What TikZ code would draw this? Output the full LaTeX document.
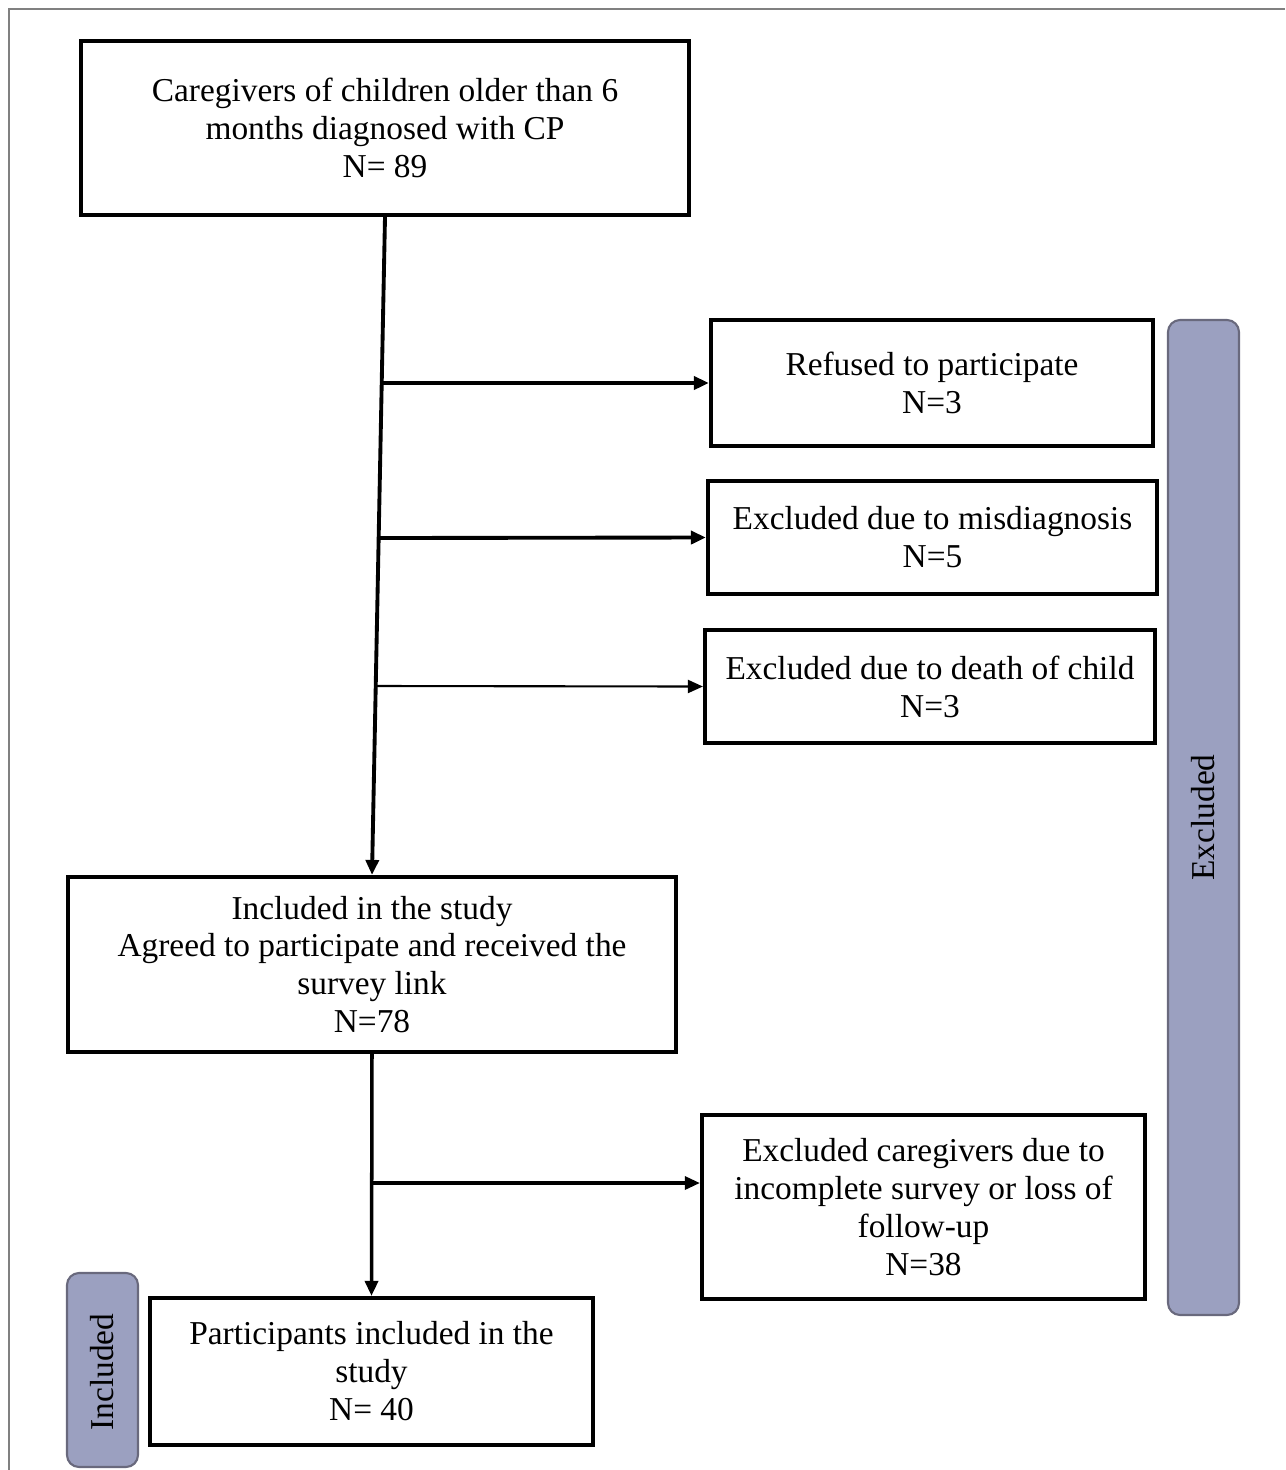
\documentclass[tikz,border=0pt]{standalone}
\usepackage{fontspec}
\setmainfont{Liberation Serif}
\usetikzlibrary{arrows.meta}

\definecolor{barfill}{RGB}{155,160,192}
\definecolor{barline}{RGB}{105,105,125}

\tikzset{
  box/.style={draw, line width=1.2pt, align=center, inner sep=0pt,
    font=\fontsize{9.5}{10.8}\selectfont},
  sidebar/.style={draw=barline, fill=barfill, line width=0.6pt, rounded corners=1.2mm,
    font=\fontsize{9.5}{10.8}\selectfont},
  >={Triangle[length=1.5mm,width=1.3mm]}
}

\begin{document}
\begin{tikzpicture}[x=0.1mm,y=-0.1mm]
        \useasboundingbox (0,0) rectangle (1285,1470);
        \draw[gray, line width=0.5pt] (9,1470) -- (9,9) -- (1285,9);
        % boxes
        \node[box, minimum width=60.8mm, minimum height=17.4mm] (top) at (385,128)
            {Caregivers of children older than 6\\months diagnosed with CP\\N= 89};
        \node[box, minimum width=44.2mm, minimum height=12.6mm] (refused) at (932,383)
            {Refused to participate\\N=3};
        \node[box, minimum width=44.9mm, minimum height=11.3mm] (misdiag) at (932.5,537.5)
            {Excluded due to misdiagnosis\\N=5};
        \node[box, minimum width=45.0mm, minimum height=11.3mm] (death) at (930,686.5)
            {Excluded due to death of child\\N=3};
        \node[box, minimum width=60.8mm, minimum height=17.5mm] (incl) at (372,964.5)
            {Included in the study\\Agreed to participate and received the\\survey link\\N=78};
        \node[box, minimum width=44.3mm, minimum height=18.4mm] (lost) at (923.5,1207)
            {Excluded caregivers due to\\incomplete survey or loss of\\follow-up\\N=38};
        \node[box, minimum width=44.3mm, minimum height=14.7mm] (part) at (371.5,1371.5)
            {Participants included in the\\study\\N= 40};
        % side bars
        \node[sidebar, minimum width=7.1mm, minimum height=99.5mm] (excbar) at (1203.5,817.5) {};
        \node[sidebar, minimum width=7.1mm, minimum height=19.4mm] (incbar) at (102.5,1370) {};
        \node[rotate=90, font=\fontsize{9.5}{10.8}\selectfont] (exctext) at (excbar.center) {Excluded};
        \node[rotate=90, font=\fontsize{9.5}{10.8}\selectfont] (inctext) at (102.5,1372) {Included};
        % connectors
        \coordinate (b1) at (382,383);
        \coordinate (b2) at (379,538);
        \coordinate (b3) at (376,686);
        \coordinate (b4) at (372,1183);
        \draw[->, line width=1.1pt] (top.south) -- (incl.north);
        \draw[->, line width=1.1pt] (b1) -- (refused.west);
        \draw[->, line width=1.1pt] (b2) -- (misdiag.west);
        \draw[->, line width=0.6pt] (b3) -- (death.west);
        \draw[->, line width=1.0pt] (incl.south) -- (part.north);
        \draw[->, line width=0.9pt] (b4) -- (b4 -| lost.west);
      \end{tikzpicture}
\end{document}
